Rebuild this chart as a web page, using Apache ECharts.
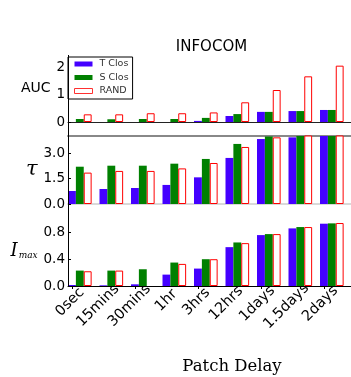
<!DOCTYPE html>
<html>
<head>
<meta charset="utf-8">
<script src="https://cdn.jsdelivr.net/npm/echarts@6/dist/echarts.min.js"></script>
<style>html,body{margin:0;padding:0;background:#fff;}#c{width:351px;height:377px;}</style>
</head>
<body>
<div id="c"></div>
<script>
// ---- data ----
const categories = ['0sec','15mins','30mins','1hr','3hrs','12hrs','1days','1.5days','2days'];
const seriesNames = ['T Clos','S Clos','RAND'];
const aucT = [0, 0, 0, 0, 0.04, 0.22, 0.37, 0.40, 0.44];
const aucS = [0.11, 0.10, 0.11, 0.11, 0.15, 0.29, 0.37, 0.40, 0.44];
const aucR = [0.28, 0.28, 0.32, 0.32, 0.35, 0.72, 1.17, 1.67, 2.06];
const tauT = [0.77, 0.89, 0.95, 1.13, 1.58, 2.73, 3.85, 3.95, 4.3];
const tauS = [2.21, 2.27, 2.27, 2.39, 2.67, 3.56, 4.0, 4.2, 4.4];
const tauR = [1.86, 1.96, 1.96, 2.11, 2.43, 3.38, 3.95, 4.3, 4.6];
const imaxT = [0.015, 0.01, 0.025, 0.17, 0.26, 0.58, 0.76, 0.86, 0.93];
const imaxS = [0.23, 0.23, 0.25, 0.35, 0.40, 0.65, 0.775, 0.88, 0.935];
const imaxR = [0.22, 0.23, null, 0.33, 0.40, 0.64, 0.775, 0.88, 0.94];
const aucTicks = [0, 1, 2];
const tauTicks = [0, 1.5, 3.0];
const imaxTicks = [0, 0.4, 0.8];

// ---- layout ----
const L = 68, W = 283.5;
const band = W / categories.length;
const P = [
  {top: 55, height: 67, max: 2.45, interval: 1, ticks: aucTicks, dec: 0},
  {top: 136, height: 68, max: 4.03, interval: 1.5, ticks: tauTicks, dec: 1},
  {top: 217, height: 69, max: 1.03, interval: 0.4, ticks: imaxTicks, dec: 1}
];
const colors = ['#4400ff', '#008000', '#ff0000'];
const tickFont = 13.5;
const labelFont = 14.5;
const FF = '"DejaVu Sans", sans-serif';

// rotated x labels: centre on tick, tops aligned (like matplotlib ha=center, va=top)
const ctx = document.createElement('canvas').getContext('2d');
ctx.font = labelFont + 'px "DejaVu Sans"';
const widths = categories.map(c => ctx.measureText(c).width);
const wmax = Math.max.apply(null, widths);
const axisY = P[2].top + P[2].height;
const labelTop = 296.5, lineH = labelFont, margin = 0, xNudge = 9.5;
const s2 = Math.SQRT1_2;
const K = labelTop + 0.5 * s2 * lineH - (axisY + margin);
const dx = 0.5 * s2 * wmax - K;
const catLabelData = categories.map((c, i) => {
  const w = widths[i];
  const pt = 0.5 * w + (K - dx) / s2;
  const pr = (0.5 * (K + dx) - 0.25 * s2 * w) / s2;
  return {value: c, textStyle: {padding: [Math.max(0, pt), Math.max(0, pr), 0, 0]}};
});

const grids = P.map(p => ({left: L, top: p.top, width: W, height: p.height, outerBoundsMode: 'none'}));
grids.push({left: L + dx + xNudge - 0.375 * band, top: P[2].top, width: W, height: P[2].height, outerBoundsMode: 'none'});
grids.push({left: L - 0.375 * band, top: P[2].top, width: W, height: P[2].height, outerBoundsMode: 'none'});

const hidden = {axisLine: {show: false}, axisTick: {show: false}, axisLabel: {show: false}, splitLine: {show: false}};
const xAxes = [
  Object.assign({type: 'category', data: categories, gridIndex: 0}, hidden, {axisLine: {show: true, lineStyle: {color: '#222', width: 1}}}),
  Object.assign({type: 'category', data: categories, gridIndex: 1}, hidden, {axisLine: {show: true, lineStyle: {color: '#d9d9d9', width: 2}}}),
  Object.assign({type: 'category', data: categories, gridIndex: 1, position: 'top'}, hidden, {axisLine: {show: true, lineStyle: {color: '#888', width: 2}}}),
  Object.assign({type: 'category', data: categories, gridIndex: 2}, hidden, {axisLine: {show: true, lineStyle: {color: '#000', width: 1}}}),
  Object.assign({type: 'category', data: catLabelData, gridIndex: 3}, hidden, {
    axisLabel: {show: true, interval: 0, rotate: 45, margin: margin,
      fontSize: labelFont, fontFamily: FF, color: '#000'}
  }),
  Object.assign({type: 'category', data: categories, gridIndex: 4, position: 'top'}, hidden, {
    axisTick: {show: true, inside: true, alignWithLabel: true, length: 3, lineStyle: {color: '#000'}}
  })
];

const yNames = [
  {name: 'AUC', nameGap: 13, nameTextStyle: {fontSize: 14, fontFamily: FF, color: '#000', align: 'right', verticalAlign: 'middle'}},
  {name: 'τ', nameGap: 26, nameTextStyle: {fontSize: 21, fontFamily: '"DejaVu Serif", serif', fontStyle: 'italic', color: '#000', align: 'right', verticalAlign: 'middle'}},
  {name: '{i|I}{s|max}', nameGap: 27, nameTextStyle: {align: 'right', verticalAlign: 'middle', color: '#000',
    rich: {i: {fontSize: 18, fontFamily: '"DejaVu Serif", serif', fontStyle: 'italic', color: '#000'},
           s: {fontSize: 9, fontFamily: '"DejaVu Serif", serif', fontStyle: 'italic', color: '#000', padding: [9, 0, 0, 1]}}}}
];
const yAxes = P.map((p, k) => Object.assign({
  type: 'value', gridIndex: k, min: 0, max: p.max, interval: p.interval,
  nameLocation: 'middle', nameRotate: 0,
  axisLine: {show: false},
  axisTick: {show: true, inside: true, length: 3, lineStyle: {color: '#000'}},
  splitLine: {show: false},
  axisLabel: {show: true, margin: 3, fontSize: tickFont, fontFamily: FF, color: '#000', showMaxLabel: false,
    formatter: v => p.ticks.some(t => Math.abs(t - v) < 1e-6) ? v.toFixed(p.dec) : ''}
}, yNames[k]));
yAxes.push(Object.assign({type: 'value', gridIndex: 3, min: 0, max: 1}, hidden));
yAxes.push(Object.assign({type: 'value', gridIndex: 4, min: 0, max: 1}, hidden));

const panelData = [[aucT, aucS, aucR], [tauT, tauS, tauR], [imaxT, imaxS, imaxR]];
const panelX = [0, 1, 3];
const series = [];
panelData.forEach((sets, k) => {
  sets.forEach((d, j) => {
    series.push({
      type: 'bar', name: seriesNames[j], xAxisIndex: panelX[k], yAxisIndex: k,
      data: d, barWidth: '25%', barGap: '0%',
      itemStyle: j === 2 ? {color: '#fff', borderColor: colors[2], borderWidth: 1}
                         : {color: colors[j], borderWidth: 0},
      emphasis: {disabled: true}
    });
  });
  series.push({type: 'bar', name: '_pad', xAxisIndex: panelX[k], yAxisIndex: k, data: categories.map(() => null),
    barWidth: '25%', barGap: '0%', itemStyle: {color: 'transparent'}});
});

const chart = echarts.init(document.getElementById('c'), null, {renderer: 'canvas'});
chart.setOption({
  animation: false,
  backgroundColor: '#fff',
  grid: grids,
  xAxis: xAxes,
  yAxis: yAxes,
  legend: {
    data: seriesNames.map((n, j) => ({name: n, icon: 'rect',
      itemStyle: j === 2 ? {color: '#fff', borderColor: '#ff3030', borderWidth: 1} : {color: colors[j], borderWidth: 0}})),
    orient: 'vertical', left: L, top: 57,
    itemWidth: 18, itemHeight: 5, itemGap: 1.5,
    padding: [1, 4, 2, 6],
    borderColor: '#000', borderWidth: 1, backgroundColor: '#fff',
    textStyle: {fontSize: 9.5, fontFamily: FF, color: '#333', lineHeight: 12, padding: [0, 0, 0, 2]},
    selectedMode: false
  },
  series: series,
  graphic: [
    {type: 'line', shape: {x1: L + 0.5, y1: P[0].top, x2: L + 0.5, y2: axisY}, style: {stroke: '#000', lineWidth: 1}, z: 100},
    {type: 'text', x: 211.5, y: 47, style: {text: 'INFOCOM', align: 'center', verticalAlign: 'middle', fontSize: 15, fontFamily: FF, fill: '#000'}},
    {type: 'text', x: 232, y: 366.5, style: {text: 'Patch Delay', align: 'center', verticalAlign: 'middle', fontSize: 16.5, fontFamily: '"DejaVu Serif", serif', fill: '#000'}}
  ]
});
</script>
</body>
</html>
